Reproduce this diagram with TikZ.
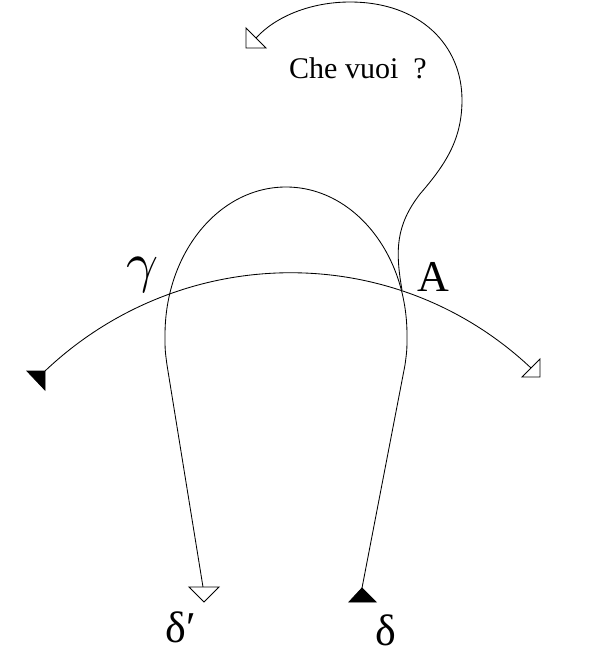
\documentclass[tikz,border=0pt]{standalone}
\usepackage{fontspec}
\setmainfont{Liberation Serif}
\begin{document}
\begin{tikzpicture}[x=1pt,y=-1pt,
  curveline/.style={line width=0.85pt, line join=round},
  openhead/.style={draw, line width=0.85pt, fill=white, line join=miter},
  fullhead/.style={draw, line width=0.85pt, fill=black, line join=miter},
  lbl/.style={inner sep=0pt, font=\fontsize{44}{46}\selectfont},
  smalllbl/.style={inner sep=0pt, font=\fontsize{30}{32}\selectfont}]
\useasboundingbox (0,0) rectangle (589,657);
% coordinates
\coordinate (hl) at (45,371);
\coordinate (hr) at (531,368);
\coordinate (Apt) at (402,290);
\coordinate (dstart) at (362,588);
\coordinate (dpend) at (203,587);
\coordinate (qend) at (256,38);
% horizontal arc (signifying chain)
\draw[curveline] (hl) .. controls (181,242) and (394,239) .. (hr);
% the arch from delta to delta'
\draw[curveline] (dstart) -- (405,365) .. controls (407,350) .. (407,335)
  .. controls (407,253) and (353,187) .. (286,187)
  .. controls (219,187) and (165,253) .. (165,335)
  .. controls (165,350) .. (167,365) -- (dpend);
% Che vuoi loop
\draw[curveline] (Apt) .. controls (395,250) and (396,225) .. (420,194)
  .. controls (445,165) and (462,140) .. (462,100)
  .. controls (462,45) and (420,2) .. (350,2)
  .. controls (310,2) and (275,17) .. (qend);
% arrowheads
\draw[fullhead] (27,371) -- (45,371) -- (45,390) -- cycle;
\draw[openhead] (522,377) -- (540,377) -- (540,359) -- cycle;
\draw[openhead] (246,28) -- (246,48) -- (266,48) -- cycle;
\draw[openhead] (189,587) -- (219,587) -- (204,602) -- cycle;
\draw[fullhead] (349,602) -- (376,602) -- (362,588) -- cycle;
% labels
\node[smalllbl, anchor=base west] (q) at (289,78) {Che vuoi\ \ ?};
\node[lbl, anchor=base west] (A) at (417,291) {A};
\node[inner sep=0pt] (g) at (143,275) {\scalebox{5.6}{$\gamma$}};
\node[lbl] (dp) at (181,627) {δ′};
\node[lbl] (d) at (386,630) {δ};
\end{tikzpicture}
\end{document}
